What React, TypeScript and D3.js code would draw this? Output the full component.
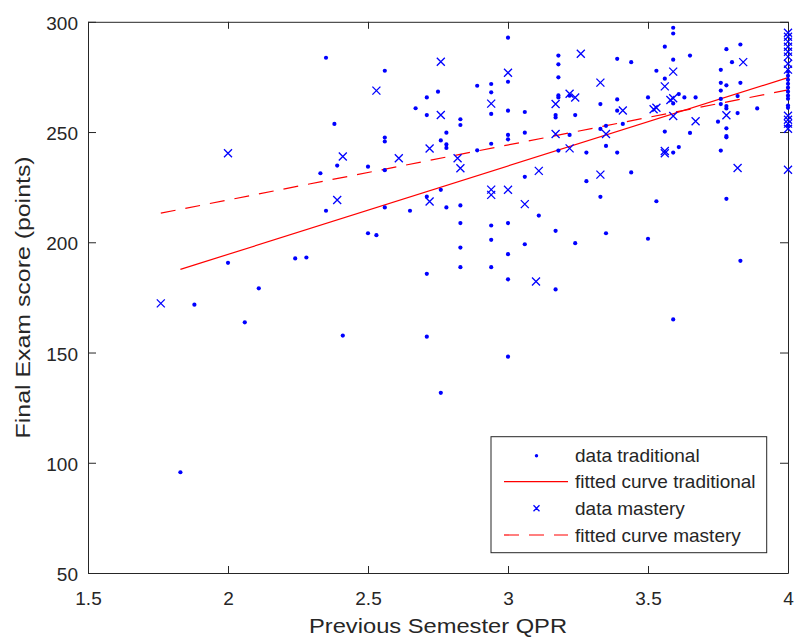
import React, { useEffect, useRef } from "react";
import * as d3 from "d3";

// axis ticks
const xTicks = [1.5, 2, 2.5, 3, 3.5, 4];
const yTicks = [50, 100, 150, 200, 250, 300];

// data traditional: [previous semester QPR, final exam score]
const traditional: [number, number][] = [
  [2.35, 283.7], [2.38, 253.7], [2.39, 234.8], [2.33, 231.3], [2.35, 214.3], [2.0, 190.7],
  [2.24, 192.7], [2.28, 193.1], [2.11, 179.1], [1.88, 171.7], [2.06, 163.7], [1.83, 95.7],
  [2.41, 157.7], [2.56, 215.8], [2.65, 214.3], [2.78, 215.8], [2.83, 216.7], [3.11, 212.1],
  [2.83, 208.7], [2.94, 207.6], [3.0, 208.7], [2.5, 204.1], [2.53, 203.2], [2.83, 197.6],
  [2.94, 201.1], [3.06, 199.1], [3.0, 194.6], [2.71, 185.7], [2.83, 188.7], [2.94, 188.7],
  [3.0, 183.2], [2.71, 157.2], [3.0, 148.1], [2.76, 131.7], [3.0, 292.8], [2.56, 277.8],
  [3.0, 272.8], [2.89, 271], [2.94, 271.8], [2.75, 268.3], [2.71, 265.7], [2.94, 268],
  [2.67, 260.8], [2.71, 257.7], [2.94, 258.2], [3.0, 259.7], [3.06, 259.1], [2.83, 255.8],
  [2.83, 253.2], [2.78, 249.7], [3.06, 249.7], [2.56, 247.5], [2.56, 245.7], [3.0, 248.7],
  [3.0, 246.7], [2.76, 246.2], [2.78, 244.4], [2.78, 242.8], [2.94, 244.7], [2.89, 241.7],
  [2.5, 234.3], [2.56, 232.7], [3.06, 229.7], [2.76, 223.8], [2.71, 220.7],
  [3.59, 297.3], [3.59, 294.7], [3.56, 288.7], [3.83, 289.7], [3.78, 287.6], [3.18, 284.7],
  [3.65, 284.7], [3.39, 283.2], [3.44, 281.7], [3.59, 282.8], [3.8, 281.7], [3.18, 280.7],
  [3.53, 277.8], [3.76, 278.2], [3.18, 274.8], [3.56, 274.2], [3.76, 272.3], [3.83, 272.3],
  [3.78, 271.2], [3.76, 268.8], [3.18, 266.6], [3.18, 265.7], [3.22, 266.5], [3.61, 267.2],
  [3.63, 265.7], [3.67, 265.7], [3.5, 265.7], [3.39, 264.8], [3.82, 266.3], [3.33, 262.7],
  [3.59, 263], [3.76, 265], [3.76, 262.7], [3.78, 261.8], [3.78, 260.7], [3.89, 260.7],
  [3.39, 259.7], [3.82, 258.6], [3.24, 257.7], [3.17, 257.7], [3.17, 256.6], [3.75, 254.7],
  [3.41, 253.7], [3.35, 252.8], [3.33, 251.4], [3.78, 251.7], [3.22, 248.7], [3.56, 250.2],
  [3.65, 249.6], [3.78, 248.2], [3.78, 247.6], [3.35, 243.7], [3.18, 241.6], [3.61, 243.2],
  [3.59, 240.7], [3.28, 240.7], [3.39, 240.7], [3.76, 241.6], [3.44, 231.7], [3.28, 227.7],
  [3.33, 220.6], [3.53, 218.6], [3.78, 219.7], [3.17, 205.2], [3.24, 199.6], [3.35, 204.1],
  [3.5, 201.6], [3.83, 191.6], [3.17, 178.6], [3.59, 165],
  [4, 277.4], [4, 275.5], [4, 273.7], [4, 271.9], [4, 270.1], [4, 268.3], [4, 266.5],
  [4, 265.1], [4, 262], [4, 261], [4, 252.9],
];

// data mastery
const mastery: [number, number][] = [
  [2.0, 240.4], [2.41, 238.9], [2.39, 219.2], [1.76, 172.3], [2.76, 281.9], [3.0, 276.9],
  [2.53, 268.8], [2.94, 262.9], [2.76, 257.7], [2.72, 242.5], [2.61, 238.1], [2.82, 238.1],
  [2.83, 233.6], [3.11, 232.4], [2.94, 223.9], [2.94, 221.5], [3.0, 223.8], [2.72, 218.5],
  [3.06, 217.3], [3.1, 182.2], [3.26, 285.5], [3.84, 281.7], [3.59, 277.4], [3.33, 272.4],
  [3.56, 270.7], [3.22, 267.4], [3.24, 265.7], [3.59, 265.3], [3.58, 264.5], [3.17, 262.7],
  [3.53, 261], [3.52, 260.3], [3.41, 259.8], [3.59, 257.3], [3.78, 257.6], [3.67, 254.9],
  [3.35, 249.1], [3.17, 249.1], [3.22, 242.6], [3.56, 241.4], [3.56, 240.4], [3.33, 230.7],
  [3.82, 233.7],
  [4, 295], [4, 293.2], [4, 291], [4, 288.7], [4, 286.4], [4, 284.2], [4, 281], [4, 278.3],
  [4, 257.4], [4, 255.6], [4, 253.8], [4, 251.5], [4, 232.9],
];

// fitted curves (end points of the straight lines)
const fitTraditional: [number, number][] = [[1.83, 187.7], [4, 274.7]];
const fitMastery: [number, number][] = [[1.76, 213.2], [4, 269.1]];

const legendLabels = [
  "data traditional",
  "fitted curve traditional",
  "data mastery",
  "fitted curve mastery",
];

const W = 794;
const H = 638;
const FONT = "'Liberation Sans', Arial, Helvetica, sans-serif";
const AXIS = "#262626";
const BLUE = "#0000ff";
const RED = "#ff0000";

const App = () => {
  const svgRef = useRef<SVGSVGElement | null>(null);

  useEffect(() => {
    if (!svgRef.current) return;
    const svg = d3.select(svgRef.current);
    svg.selectAll("*").remove();

    const left = 88, right = 788, top = 21.8, bottom = 573;
    const x = d3.scaleLinear().domain([1.5, 4]).range([left, right]);
    const y = d3.scaleLinear().domain([50, 300]).range([bottom, top]);

    svg.append("rect").attr("width", W).attr("height", H).attr("fill", "#fff");

    // axes, box style with inward ticks
    const styleAxis = (g: any) => {
      g.select(".domain").attr("stroke", AXIS).attr("stroke-width", 1);
      g.selectAll(".tick line").attr("stroke", AXIS).attr("stroke-width", 1);
      g.selectAll(".tick text")
        .attr("fill", AXIS)
        .style("font-family", FONT)
        .style("font-size", "19px");
    };

    svg.append("g")
      .attr("transform", `translate(0,${bottom})`)
      .call(d3.axisBottom(x).tickValues(xTicks).tickSize(-7).tickSizeOuter(0).tickPadding(19)
        .tickFormat((d: any) => String(d)))
      .call(styleAxis);
    svg.append("g")
      .attr("transform", `translate(0,${top})`)
      .call(d3.axisTop(x).tickValues(xTicks).tickSize(-7).tickSizeOuter(0).tickFormat(() => ""))
      .call(styleAxis);
    svg.append("g")
      .attr("transform", `translate(${left},0)`)
      .call(d3.axisLeft(y).tickValues(yTicks).tickSize(-8).tickSizeOuter(0).tickPadding(10)
        .tickFormat((d: any) => String(d)))
      .call(styleAxis)
      .selectAll(".tick text")
      .attr("dy", "0.4em");
    svg.append("g")
      .attr("transform", `translate(${right},0)`)
      .call(d3.axisRight(y).tickValues(yTicks).tickSize(-8).tickSizeOuter(0).tickFormat(() => ""))
      .call(styleAxis);

    // axis labels
    svg.append("text")
      .attr("x", (left + right) / 2)
      .attr("y", 633)
      .attr("text-anchor", "middle")
      .attr("fill", AXIS)
      .attr("textLength", 258)
      .attr("lengthAdjust", "spacingAndGlyphs")
      .style("font-family", FONT)
      .style("font-size", "21px")
      .text("Previous Semester QPR");
    svg.append("text")
      .attr("transform", `translate(30,${(top + bottom) / 2}) rotate(-90)`)
      .attr("text-anchor", "middle")
      .attr("fill", AXIS)
      .attr("textLength", 282)
      .attr("lengthAdjust", "spacingAndGlyphs")
      .style("font-family", FONT)
      .style("font-size", "21px")
      .text("Final Exam score (points)");

    // fitted lines
    const line = d3.line<[number, number]>().x((d) => x(d[0])).y((d) => y(d[1]));
    svg.append("path").datum(fitTraditional)
      .attr("d", line).attr("fill", "none").attr("stroke", RED).attr("stroke-width", 1.2);
    svg.append("path").datum(fitMastery)
      .attr("d", line).attr("fill", "none").attr("stroke", RED).attr("stroke-width", 1.2)
      .attr("stroke-dasharray", "15,10");

    // data points
    svg.append("g").selectAll("circle").data(traditional).enter().append("circle")
      .attr("cx", (d) => x(d[0])).attr("cy", (d) => y(d[1])).attr("r", 2.1).attr("fill", BLUE);

    const cross = (s: number) => `M${-s},${-s}L${s},${s}M${-s},${s}L${s},${-s}`;
    svg.append("g").selectAll("path").data(mastery).enter().append("path")
      .attr("transform", (d) => `translate(${x(d[0])},${y(d[1])})`)
      .attr("d", cross(4))
      .attr("fill", "none").attr("stroke", BLUE).attr("stroke-width", 1.3);

    // legend
    const lg = svg.append("g");
    lg.append("rect")
      .attr("x", 491).attr("y", 436.7).attr("width", 275.7).attr("height", 116)
      .attr("fill", "#fff").attr("stroke", AXIS).attr("stroke-width", 1);
    const rowY = [455.7, 481.7, 508.3, 535];
    legendLabels.forEach((label, i) => {
      const cy = rowY[i];
      if (i === 0) {
        lg.append("circle").attr("cx", 536.5).attr("cy", cy).attr("r", 1.7).attr("fill", BLUE);
      } else if (i === 2) {
        lg.append("path").attr("transform", `translate(536.5,${cy})`).attr("d", cross(3))
          .attr("fill", "none").attr("stroke", BLUE).attr("stroke-width", 1.3);
      } else {
        lg.append("line").attr("x1", 504).attr("x2", 568).attr("y1", cy).attr("y2", cy)
          .attr("stroke", RED).attr("stroke-width", 1.2)
          .attr("stroke-dasharray", i === 3 ? "15,10" : null);
      }
      lg.append("text")
        .attr("x", 575).attr("y", cy).attr("dy", "0.35em")
        .attr("fill", AXIS)
        .style("font-family", FONT).style("font-size", "19px")
        .text(label);
    });
  }, []);

  return (
    <svg
      ref={svgRef}
      width={W}
      height={H}
      style={{ position: "absolute", left: 0, top: 0, display: "block" }}
    />
  );
};

export default App;
